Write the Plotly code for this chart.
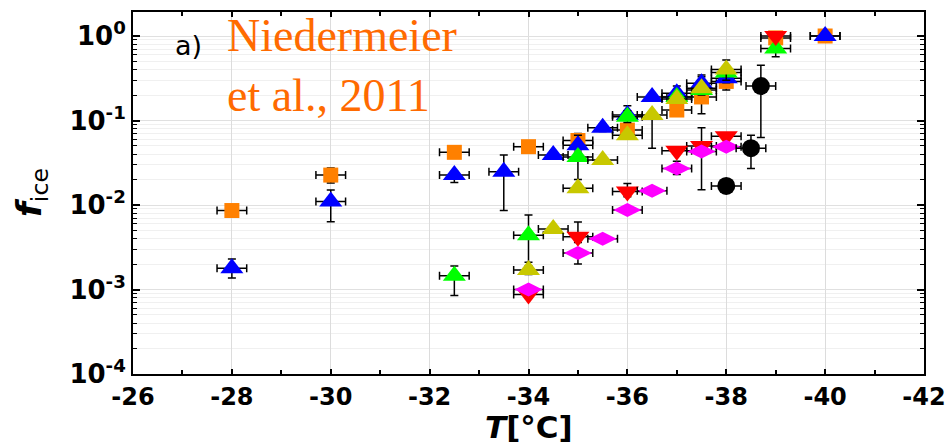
import plotly.graph_objects as go

# Ice-active fraction vs. temperature for several particle types
orange_T = [-28, -30, -32.5, -34, -35, -36, -37, -37.5, -38, -39, -40]
orange_f = [0.0086, 0.0226, 0.042, 0.049, 0.058, 0.077, 0.133, 0.19, 0.29, 0.95, 1.0]
orange_hi = [0.0095, 0.0274, 0.049, 0.054, 0.070, 0.090, 0.16, 0.33, 0.32, 1.05, 1.08]
orange_lo = [0.0078, 0.0182, 0.038, 0.045, 0.041, 0.066, 0.116, 0.12, 0.23, 0.85, 0.93]

blue_T = [-28, -30, -32.5, -33.5, -34.5, -35, -35.5, -36, -36.5, -37, -37.5, -38, -40]
blue_f = [0.00178, 0.011, 0.0226, 0.0248, 0.039, 0.051, 0.082, 0.116, 0.19, 0.21, 0.275, 0.316, 1.0]
blue_hi = [0.0023, 0.0151, 0.025, 0.039, 0.043, 0.067, 0.09, 0.149, 0.21, 0.256, 0.345, 0.36, 1.08]
blue_lo = [0.00137, 0.00635, 0.0184, 0.0086, 0.035, 0.045, 0.074, 0.10, 0.17, 0.18, 0.24, 0.28, 0.93]

green_T = [-32.5, -34, -35, -36, -37, -37.5, -38, -39]
green_f = [0.00145, 0.0044, 0.037, 0.111, 0.19, 0.23, 0.37, 0.71]
green_hi = [0.0019, 0.0076, 0.042, 0.13, 0.21, 0.26, 0.42, 0.78]
green_lo = [0.00085, 0.0021, 0.020, 0.095, 0.17, 0.20, 0.33, 0.57]

yellow_T = [-34, -34.5, -35, -35.5, -36, -36.5, -37, -37.5, -38]
yellow_f = [0.0017, 0.0052, 0.0158, 0.034, 0.067, 0.116, 0.18, 0.24, 0.40]
yellow_hi = [0.0019, 0.0056, 0.017, 0.036, 0.072, 0.125, 0.20, 0.26, 0.52]
yellow_lo = [0.0015, 0.0048, 0.0145, 0.032, 0.062, 0.047, 0.16, 0.22, 0.30]

red_T = [-34, -35, -36, -37, -37.5, -38, -39]
red_f = [0.00087, 0.0042, 0.0144, 0.044, 0.050, 0.065, 1.0]
red_hi = [0.00095, 0.0063, 0.018, 0.048, 0.082, 0.07, 1.08]
red_lo = [0.0008, 0.0036, 0.0125, 0.04, 0.045, 0.06, 0.93]

magenta_T = [-34, -35, -35.5, -36, -36.5, -37, -37.5, -38]
magenta_f = [0.001, 0.0027, 0.0040, 0.0087, 0.0147, 0.027, 0.043, 0.049]
magenta_hi = [0.0011, 0.0030, 0.0043, 0.0095, 0.016, 0.033, 0.046, 0.053]
magenta_lo = [0.0009, 0.0020, 0.0037, 0.008, 0.0135, 0.023, 0.0152, 0.045]

black_T = [-38, -38.5, -38.7]
black_f = [0.0168, 0.047, 0.256]
black_hi = [0.018, 0.067, 0.45]
black_lo = [0.0156, 0.027, 0.063]

T_ERR = 0.3

x_ticks = [-26, -28, -30, -32, -34, -36, -38, -40, -42]
y_ticks = [1e-4, 1e-3, 1e-2, 1e-1, 1e0]
y_exps = [-4, -3, -2, -1, 0]
y_minor = [m * 10.0 ** k for k in range(-4, 0) for m in range(2, 10)]

series = [
    (orange_T, orange_f, orange_hi, orange_lo, "square", 15, "#ff8000"),
    (blue_T, blue_f, blue_hi, blue_lo, "triangle-up", 20, "#0000ff"),
    (green_T, green_f, green_hi, green_lo, "triangle-up", 20, "#00ff00"),
    (yellow_T, yellow_f, yellow_hi, yellow_lo, "triangle-up", 20, "#c8c800"),
    (red_T, red_f, red_hi, red_lo, "triangle-down", 20, "#ff0000"),
    (magenta_T, magenta_f, magenta_hi, magenta_lo, "diamond-wide", 20, "#ff00ff"),
    (black_T, black_f, black_hi, black_lo, "circle", 18, "#000000"),
]

fig = go.Figure()
for T, f, hi, lo, sym, size, color in series:
    fig.add_trace(go.Scatter(
        x=T, y=f, mode="markers",
        marker=dict(symbol=sym, size=size, color=color, line=dict(width=0)),
        error_y=dict(type="data", symmetric=False,
                     array=[h - v for h, v in zip(hi, f)],
                     arrayminus=[v - l for v, l in zip(f, lo)],
                     color="black", thickness=1.5, width=4),
        error_x=dict(type="constant", value=T_ERR, color="black", thickness=1.5, width=4),
        showlegend=False,
    ))

SANS = "DejaVu Sans, Liberation Sans, Arial"

fig.update_xaxes(
    range=[-26, -42], tickvals=x_ticks, ticktext=[f"<b>{v}</b>" for v in x_ticks],
    ticks="inside", ticklen=5, tickwidth=1.5, tickcolor="black",
    showline=True, linecolor="black", linewidth=2, mirror="allticks",
    showgrid=True, gridcolor="#dcdcdc", gridwidth=1, zeroline=False, automargin=False,
    minor=dict(dtick=1, tick0=-26, ticks="inside", ticklen=4, tickwidth=1.5, tickcolor="black", showgrid=False),
    tickfont=dict(family=SANS, size=24, color="black"),
)
fig.update_yaxes(
    type="log", range=[-4, 0.284], tickvals=y_ticks,
    ticktext=[f"<b>10<sup>{e}</sup></b>" for e in y_exps],
    ticks="inside", ticklen=7, tickwidth=1.5, tickcolor="black",
    showline=True, linecolor="black", linewidth=2, mirror="allticks",
    showgrid=True, gridcolor="#e0e0e0", gridwidth=1, zeroline=False, automargin=False,
    minor=dict(tickvals=y_minor, ticks="inside", ticklen=4, tickwidth=1, tickcolor="black",
               showgrid=True, gridcolor="#f0f0f0", gridwidth=1),
    tickfont=dict(family=SANS, size=26, color="black"),
)

fig.update_layout(
    width=951, height=448,
    margin=dict(l=133, r=27, t=12, b=74),
    plot_bgcolor="white", paper_bgcolor="white",
    annotations=[
        dict(text="<b><i>T</i>[°C]</b>", xref="paper", yref="paper", x=0.5, y=0,
             yshift=-53, showarrow=False, yanchor="middle",
             font=dict(family=SANS, size=31, color="black")),
        dict(text="<b><i>f</i></b><sub>ice</sub>", xref="paper", yref="paper", x=0, y=0.5,
             xshift=-102, showarrow=False, textangle=-90, xanchor="center",
             font=dict(family=SANS, size=34, color="black")),
        dict(text="a)", xref="paper", yref="paper", x=0, y=1, xshift=40, yshift=-33,
             xanchor="left", yanchor="middle", showarrow=False,
             font=dict(family=SANS, size=27, color="black")),
        dict(text="Niedermeier<br>et al., 2011", xref="paper", yref="paper", x=0, y=1,
             xshift=92, yshift=4, xanchor="left", yanchor="top", align="left", showarrow=False,
             font=dict(family="Liberation Serif, Times New Roman", size=46, color="#ff6a00")),
    ],
)

fig.write_html("out.html")
